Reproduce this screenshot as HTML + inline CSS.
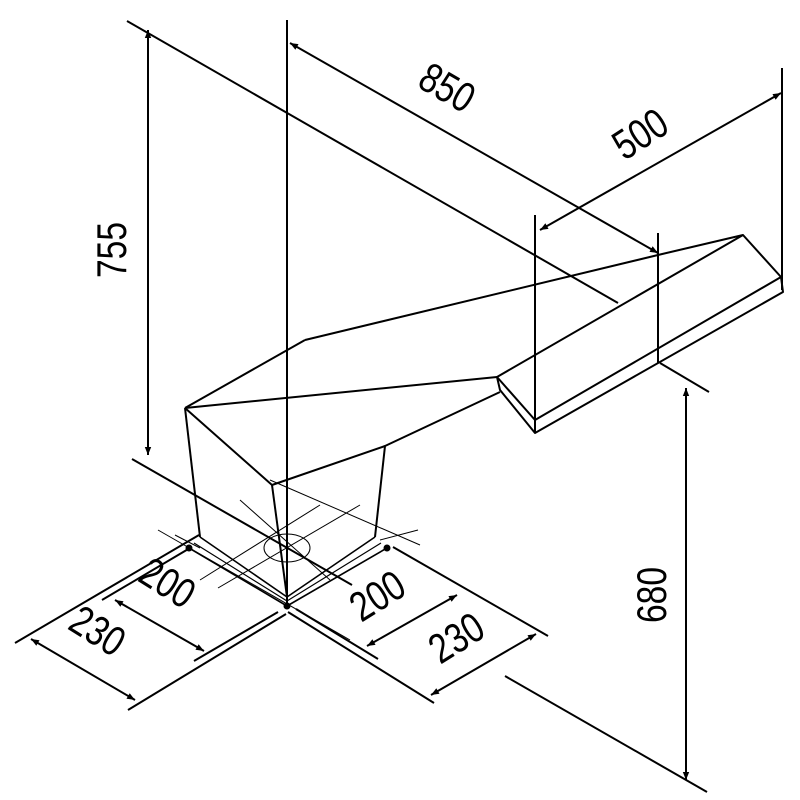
<!DOCTYPE html>
<html><head><style>html,body{margin:0;background:#fff}svg{display:block}</style></head><body>
<svg width="800" height="800" viewBox="0 0 800 800" xmlns="http://www.w3.org/2000/svg">
<defs>
<marker id="a" viewBox="0 0 10 10" refX="10" refY="5" markerWidth="16" markerHeight="8" orient="auto-start-reverse" markerUnits="userSpaceOnUse"><path d="M0,1 L10,5 L0,9 Z" fill="#000"/></marker>
</defs>
<g stroke="#000" stroke-width="2" fill="none" stroke-linejoin="round">
<line x1="127" y1="21" x2="618" y2="303"/>
<line x1="287" y1="20" x2="287" y2="606"/>
<line x1="535" y1="215" x2="535" y2="430"/>
<line x1="658" y1="233" x2="658" y2="363"/>
<line x1="782" y1="68" x2="782" y2="290"/>
<line x1="660" y1="363" x2="709" y2="392"/>
<line x1="148" y1="30" x2="148" y2="455" marker-start="url(#a)" marker-end="url(#a)"/>
<line x1="290" y1="43" x2="658" y2="253" marker-start="url(#a)" marker-end="url(#a)"/>
<line x1="540" y1="230" x2="781" y2="93" marker-start="url(#a)" marker-end="url(#a)"/>
<line x1="686" y1="388" x2="686" y2="780" marker-start="url(#a)" marker-end="url(#a)"/>
<line x1="132" y1="459" x2="352" y2="585"/>
<line x1="505" y1="676" x2="707" y2="792"/>
<polyline points="305,340 658,255 743,235 781,277 535,420 497,377 743,235"/>
<polyline points="497,377 500,390 535,433 783,292 781,277"/>
<line x1="535" y1="420" x2="535" y2="433"/>
<polyline points="185,408 305,340"/>
<line x1="185" y1="408" x2="497" y2="377"/>
<polyline points="500,392 385,446 272,485 185,408"/>
<line x1="185" y1="408" x2="200" y2="537"/>
<line x1="385" y1="446" x2="375" y2="537"/>
<line x1="272" y1="485" x2="287" y2="597"/>
<polyline points="200,537 287,597 375,537" stroke-width="1.6"/>
<polyline points="189,548 287,606 387,548" stroke-width="1.6"/>
<polyline points="194,543 287,601 381,543" stroke-width="1.2"/>
<line x1="199" y1="535" x2="15" y2="643"/>
<line x1="190" y1="548" x2="102" y2="600"/>
<line x1="286" y1="614" x2="128" y2="710"/>
<line x1="278" y1="612" x2="194" y2="661"/>
<line x1="31" y1="639" x2="135" y2="700" marker-start="url(#a)" marker-end="url(#a)"/>
<line x1="115" y1="600" x2="204" y2="651" marker-start="url(#a)" marker-end="url(#a)"/>
<line x1="393" y1="547" x2="548" y2="636"/>
<line x1="288" y1="612" x2="434" y2="703"/>
<line x1="296" y1="609" x2="378" y2="659"/>
<line x1="431" y1="695" x2="536" y2="634" marker-start="url(#a)" marker-end="url(#a)"/>
<line x1="367" y1="646" x2="457" y2="595" marker-start="url(#a)" marker-end="url(#a)"/>
<circle cx="189" cy="548" r="2.5" fill="#000"/>
<circle cx="387" cy="548" r="2.5" fill="#000"/>
<circle cx="287" cy="606" r="2.5" fill="#000"/>
</g>
<g stroke="#000" stroke-width="1" fill="none">
<line x1="158" y1="530" x2="350" y2="640"/>
<line x1="200" y1="580" x2="320" y2="505"/>
<line x1="218" y1="588" x2="360" y2="505"/>
<line x1="270" y1="480" x2="420" y2="545"/>
<line x1="240" y1="500" x2="330" y2="580"/>
<line x1="380" y1="540" x2="418" y2="530"/>
<line x1="175" y1="535" x2="200" y2="548"/>
<ellipse cx="287" cy="548" rx="23" ry="14"/>
</g>
<g font-family="Liberation Sans, sans-serif" font-size="42" fill="#000" text-anchor="middle">
<text transform="translate(126,250) rotate(-90) scale(0.8,1)">755</text>
<text transform="translate(440,100) rotate(30) scale(0.8,1)">850</text>
<text transform="translate(648,146) rotate(-33) scale(0.8,1)">500</text>
<text transform="translate(666,595) rotate(-90) scale(0.8,1)">680</text>
<text transform="translate(90,643) rotate(32) scale(0.8,1)">230</text>
<text transform="translate(160,595) rotate(32) scale(0.8,1)">200</text>
<text transform="translate(385,608) rotate(-32) scale(0.8,1)">200</text>
<text transform="translate(464,650) rotate(-32) scale(0.8,1)">230</text>
</g>
</svg>
</body></html>
